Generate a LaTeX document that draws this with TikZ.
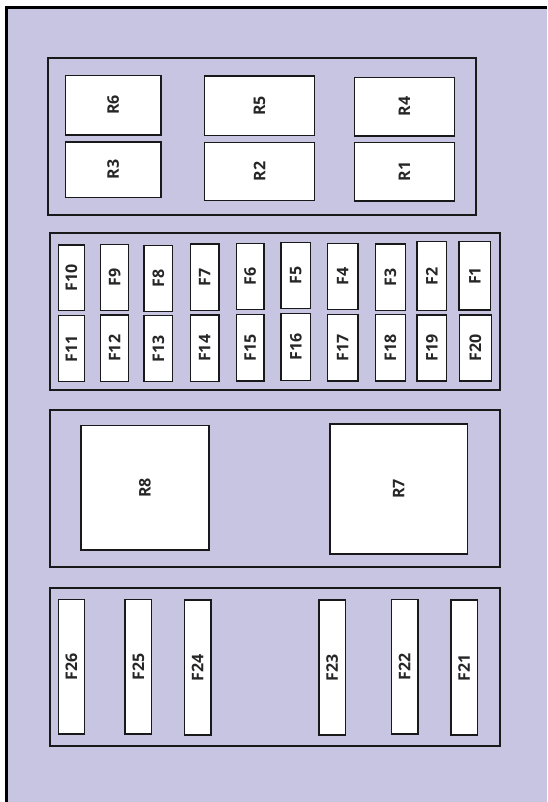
\documentclass[tikz,border=0pt]{standalone}
\usepackage{fontspec}
\usepackage{graphicx}
\setmainfont{Open Sans}
\definecolor{panel}{HTML}{C8C5E2}
\definecolor{ink}{HTML}{262626}
\tikzset{
  grp/.style={draw=black!90, line width=1.5pt, fill=none},
  wbox/.style={draw=black!90, line width=1.1pt, fill=white, inner sep=0pt, outer sep=0pt,
    rectangle, text=ink, font=\fontsize{12}{14}\selectfont\bfseries},
}
\newcommand\fbx[6]{\node[wbox, minimum width={(#4-#2)*0.75pt}, minimum height={(#5-#3)*0.75pt}] (#1) at ({(#2+#4)/2},{(#3+#5)/2}) {\rotatebox{90}{#6}};}
\newcommand\gbx[5]{\node[grp, inner sep=0pt, outer sep=0pt, minimum width={(#4-#2)*0.75pt}, minimum height={(#5-#3)*0.75pt}] (#1) at ({(#2+#4)/2},{(#3+#5)/2}) {};}
\begin{document}
\begin{tikzpicture}[x=0.75pt,y=-0.75pt]
\useasboundingbox (0,0) rectangle (548,802);
\fill[panel] (6,7.5) rectangle (547,802);
\coordinate (tl) at (6.3,7.5);
\coordinate (tr) at (547,7.5);
\coordinate (bl) at (6.3,802);
\draw[line width=2pt, black] (bl) -- (tl) -- (tr);
% group boxes
\gbx{G1}{48}{58}{476}{215}
\gbx{G2}{50}{233}{499.5}{390}
\gbx{G3}{50}{410}{500}{566.5}
\gbx{G4}{50}{588}{500}{745.5}
% relays
\fbx{R6}{65.3}{75.3}{161}{135}{R6}
\fbx{R3}{65.3}{142}{161}{197.3}{R3}
\fbx{R5}{204.3}{76}{314.7}{135.7}{R5}
\fbx{R2}{204.3}{142.3}{314.7}{200.7}{R2}
\fbx{R4}{354.3}{77.3}{454.7}{136}{R4}
\fbx{R1}{354.3}{142.3}{454.7}{201}{R1}
% fuse row top
\fbx{F10}{58.3}{245}{84.7}{310.7}{F10}
\fbx{F9}{100.7}{244.7}{128.7}{310.7}{F9}
\fbx{F8}{144}{245.7}{172.7}{311.7}{F8}
\fbx{F7}{190.3}{244}{219}{310.3}{F7}
\fbx{F6}{236.3}{243.3}{264}{309.7}{F6}
\fbx{F5}{281}{242.3}{310.7}{308.3}{F5}
\fbx{F4}{327.3}{243.3}{358}{309.7}{F4}
\fbx{F3}{375.3}{244}{405.3}{310.3}{F3}
\fbx{F2}{417}{241.7}{446.7}{310.7}{F2}
\fbx{F1}{459}{241.7}{490.7}{310}{F1}
% fuse row bottom
\fbx{F11}{58.3}{315.7}{84.7}{381.7}{F11}
\fbx{F12}{100.7}{315}{128.7}{381.7}{F12}
\fbx{F13}{144}{315.7}{172.7}{381.7}{F13}
\fbx{F14}{190.3}{315}{219}{381.7}{F14}
\fbx{F15}{236.3}{314.3}{264}{381}{F15}
\fbx{F16}{281}{313.7}{310.7}{380.3}{F16}
\fbx{F17}{327.3}{314.3}{358}{381}{F17}
\fbx{F18}{375.3}{314.3}{405.3}{381}{F18}
\fbx{F19}{417}{315}{446.7}{381}{F19}
\fbx{F20}{459.3}{315}{491.3}{381}{F20}
% big relays
\fbx{R8}{81}{425.7}{209}{550}{R8}
\fbx{R7}{330}{424}{467.3}{554}{R7}
% long fuses
\fbx{F26}{58.3}{599.3}{84.7}{734}{F26}
\fbx{F25}{125}{599.3}{151.7}{734}{F25}
\fbx{F24}{184.3}{600}{211}{735}{F24}
\fbx{F23}{319}{600}{345.3}{735}{F23}
\fbx{F22}{391.3}{599.3}{418}{734}{F22}
\fbx{F21}{451}{600}{477.3}{735}{F21}
\end{tikzpicture}
\end{document}
